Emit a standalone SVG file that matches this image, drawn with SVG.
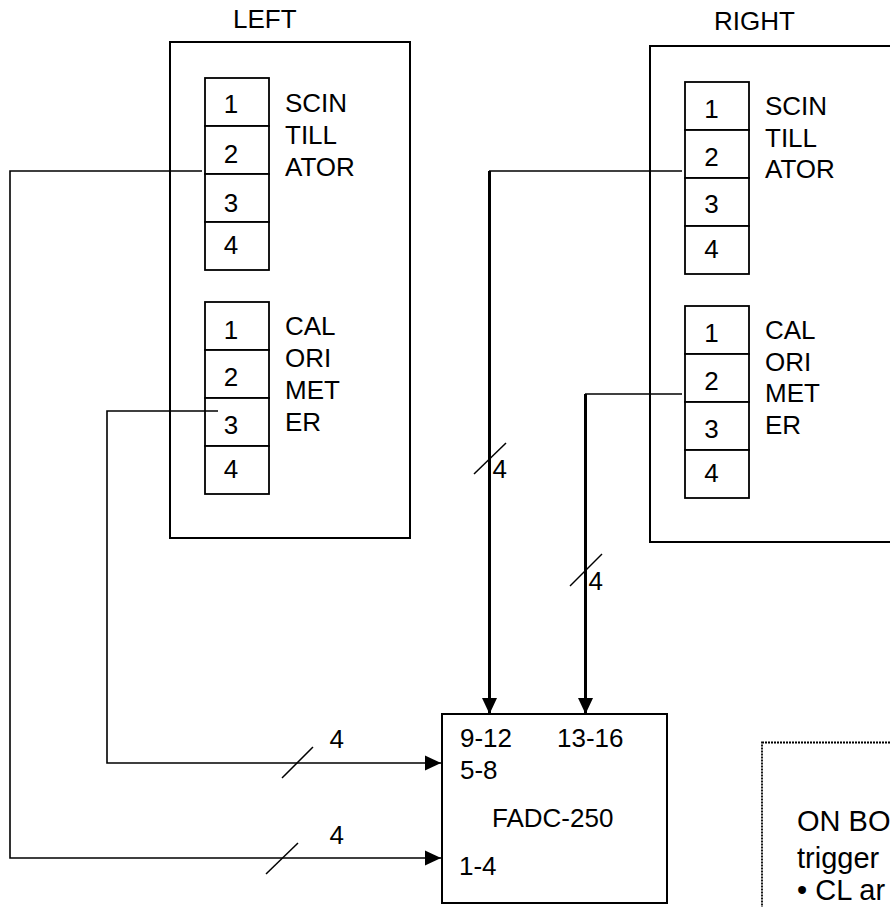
<svg xmlns="http://www.w3.org/2000/svg" width="890" height="907" viewBox="0 0 890 907">
<defs>
<style>
text{font-family:"Liberation Sans",Arial,sans-serif;font-size:26px;fill:#000}
.num{text-anchor:middle}
.box{fill:#fff;stroke:#000;stroke-width:2}
.cell{fill:#fff;stroke:#000;stroke-width:1.8}
.thin{fill:none;stroke:#000;stroke-width:1.6}
.thick{fill:none;stroke:#000;stroke-width:3}
.slash{fill:none;stroke:#000;stroke-width:1.5}
.note{font-size:29px}
</style>
<marker id="ah" markerUnits="userSpaceOnUse" markerWidth="16" markerHeight="16" viewBox="0 0 16 16" refX="16" refY="8" orient="auto">
<path d="M0,0.5 L16,8 L0,15.5 Z" fill="#000"/>
</marker>
</defs>
<rect width="890" height="907" fill="#fff"/>

<g id="left">
<text x="233" y="28">LEFT</text>
<rect class="box" x="170" y="42" width="240" height="496"/>
</g>
<g id="left-scintillator">
<rect class="cell" x="205" y="78" width="64" height="48"/>
<rect class="cell" x="205" y="126" width="64" height="48"/>
<rect class="cell" x="205" y="174" width="64" height="48"/>
<rect class="cell" x="205" y="222" width="64" height="48"/>
<text class="num" x="231" y="113">1</text>
<text class="num" x="231" y="163">2</text>
<text class="num" x="231" y="212">3</text>
<text class="num" x="231" y="254">4</text>
<text x="285" y="112">SCIN</text>
<text x="285" y="144">TILL</text>
<text x="285" y="176">ATOR</text>
</g>
<g id="left-calorimeter">
<rect class="cell" x="205" y="302" width="64" height="48"/>
<rect class="cell" x="205" y="350" width="64" height="48"/>
<rect class="cell" x="205" y="398" width="64" height="48"/>
<rect class="cell" x="205" y="446" width="64" height="48"/>
<text class="num" x="231" y="339">1</text>
<text class="num" x="231" y="386">2</text>
<text class="num" x="231" y="434">3</text>
<text class="num" x="231" y="478">4</text>
<text x="285" y="335">CAL</text>
<text x="285" y="367">ORI</text>
<text x="285" y="399">MET</text>
<text x="285" y="431">ER</text>
</g>

<g id="right">
<text x="714" y="30">RIGHT</text>
<rect class="box" x="650" y="46" width="260" height="496"/>
</g>
<g id="right-scintillator">
<rect class="cell" x="685" y="82" width="64" height="48"/>
<rect class="cell" x="685" y="130" width="64" height="48"/>
<rect class="cell" x="685" y="178" width="64" height="48"/>
<rect class="cell" x="685" y="226" width="64" height="48"/>
<text class="num" x="711.5" y="118">1</text>
<text class="num" x="711.5" y="166">2</text>
<text class="num" x="711.5" y="213">3</text>
<text class="num" x="711.5" y="258">4</text>
<text x="765" y="115">SCIN</text>
<text x="765" y="147">TILL</text>
<text x="765" y="178">ATOR</text>
</g>
<g id="right-calorimeter">
<rect class="cell" x="685" y="306" width="64" height="48"/>
<rect class="cell" x="685" y="354" width="64" height="48"/>
<rect class="cell" x="685" y="402" width="64" height="48"/>
<rect class="cell" x="685" y="450" width="64" height="48"/>
<text class="num" x="711.5" y="342">1</text>
<text class="num" x="711.5" y="390">2</text>
<text class="num" x="711.5" y="438">3</text>
<text class="num" x="711.5" y="482">4</text>
<text x="765" y="339">CAL</text>
<text x="765" y="371">ORI</text>
<text x="765" y="402">MET</text>
<text x="765" y="434">ER</text>
</g>

<g id="fadc">
<rect class="box" x="442" y="714" width="225" height="189"/>
<text x="460" y="747">9-12</text>
<text x="557" y="747">13-16</text>
<text x="460" y="779">5-8</text>
<text x="492" y="827">FADC-250</text>
<text x="459" y="875">1-4</text>
</g>

<g id="note">
<rect x="762" y="742.5" width="140" height="180" fill="none" stroke="#000" stroke-width="1.8" stroke-dasharray="2 1"/>
<text class="note" x="797" y="831">ON BO</text>
<text class="note" x="797" y="868">trigger</text>
<text class="note" x="797" y="900">• CL ar</text>
</g>

<g id="connectors">
<polyline class="thin" points="202,171 10,171 10,858 441,858" marker-end="url(#ah)"/>
<polyline class="thin" points="218,411 107,411 107,763 441,763" marker-end="url(#ah)"/>
<line class="thin" x1="682" y1="171" x2="489" y2="171"/>
<line class="thick" x1="489.5" y1="171" x2="489.5" y2="714" marker-end="url(#ah)"/>
<line class="thin" x1="682" y1="394" x2="585" y2="394"/>
<line class="thick" x1="585.5" y1="394" x2="585.5" y2="714" marker-end="url(#ah)"/>
<line class="slash" x1="474" y1="474" x2="506" y2="443"/>
<text x="492.5" y="478">4</text>
<line class="slash" x1="570" y1="586" x2="602" y2="554"/>
<text x="588.5" y="590">4</text>
<line class="slash" x1="282" y1="778" x2="313" y2="747"/>
<text x="329.5" y="748">4</text>
<line class="slash" x1="266" y1="874" x2="298" y2="843"/>
<text x="329.5" y="844">4</text>
</g>
</svg>
